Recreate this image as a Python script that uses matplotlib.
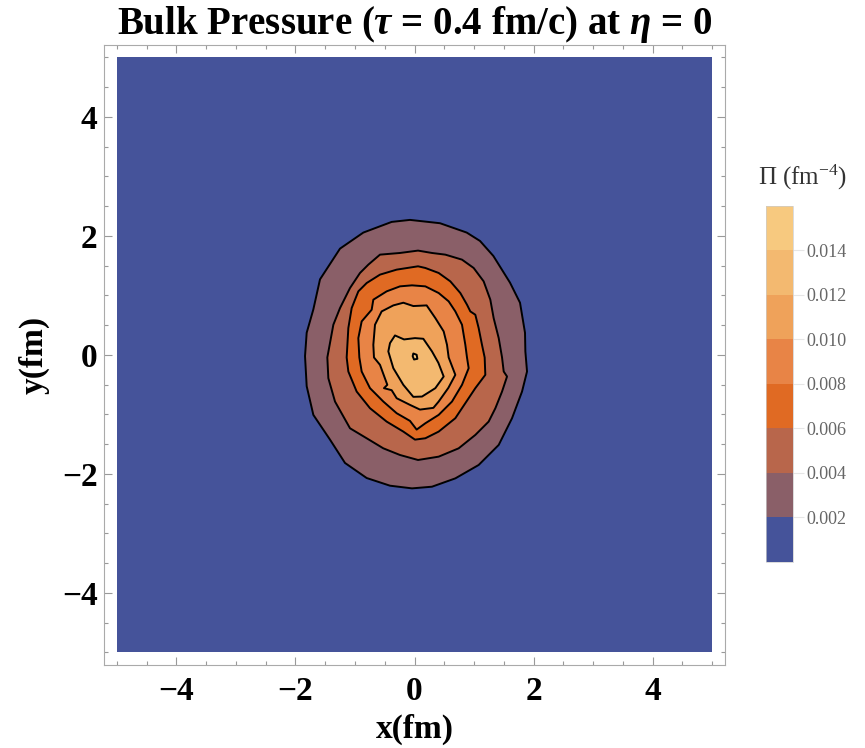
import numpy as np
import matplotlib
matplotlib.use('Agg')
import matplotlib.pyplot as plt
from matplotlib.colors import ListedColormap, BoundaryNorm
from matplotlib.ticker import MultipleLocator, FixedLocator
import matplotlib.cm as cm

plt.rcParams['font.family'] = ['Liberation Serif', 'DejaVu Serif']
plt.rcParams['mathtext.fontset'] = 'custom'
plt.rcParams['mathtext.rm'] = 'Liberation Serif'
plt.rcParams['mathtext.it'] = 'Liberation Serif:italic:bold'
plt.rcParams['axes.unicode_minus'] = True

# grid domain (fm)
x_range = [-5.0, 5.0]
y_range = [-5.0, 5.0]

# contour levels of Pi (fm^-4) and band colours
levels = [0.0, 0.002, 0.004, 0.006, 0.008, 0.010, 0.012, 0.014, 0.016]
band_colors = ['#45539a', '#8a5f68', '#b8664b', '#e06a23', '#e88446',
               '#efa25a', '#f3b970', '#f7c97f']

# contour boundaries (fm)
x_002 = [-0.384, -0.076, 0.429, 0.877, 1.101, 1.325, 1.605, 1.773, 1.857, 1.863, 1.891, 1.807, 1.639,
         1.415, 1.078, 0.686, 0.294, -0.042, -0.412, -0.804, -1.168, -1.420, -1.700, -1.812, -1.840,
         -1.812, -1.700, -1.588, -1.252, -0.860]
y_002 = [2.236, 2.270, 2.214, 2.057, 1.916, 1.664, 1.215, 0.878, 0.373, 0.059, -0.278, -0.615, -1.063,
         -1.512, -1.849, -2.074, -2.214, -2.242, -2.197, -2.068, -1.815, -1.423, -1.007, -0.525, -0.020,
         0.373, 0.766, 1.271, 1.787, 2.057]

x_004 = [0.059, 0.294, 0.518, 0.798, 0.994, 1.162, 1.274, 1.330, 1.415, 1.471, 1.499, 1.555, 1.471,
         1.359, 1.246, 1.022, 0.742, 0.406, 0.059, -0.244, -0.524, -0.804, -1.084, -1.336, -1.448,
         -1.465, -1.364, -1.252, -1.084, -0.916, -0.776, -0.580, -0.244]
y_004 = [1.754, 1.714, 1.686, 1.602, 1.462, 1.237, 0.929, 0.620, 0.283, -0.042, -0.278, -0.362, -0.615,
         -0.895, -1.120, -1.344, -1.569, -1.709, -1.765, -1.681, -1.569, -1.400, -1.232, -0.783, -0.390,
         -0.042, 0.508, 0.788, 1.125, 1.378, 1.518, 1.686, 1.714]

x_006 = [0.059, 0.182, 0.406, 0.602, 0.770, 0.882, 0.938, 1.022, 1.078, 1.134, 1.179, 1.190, 1.022,
         0.686, 0.406, 0.182, 0.008, -0.188, -0.468, -0.748, -0.972, -1.112, -1.140, -1.112, -1.056,
         -0.944, -0.804, -0.580, -0.300]
y_006 = [1.490, 1.462, 1.378, 1.237, 1.041, 0.845, 0.732, 0.676, 0.452, 0.171, -0.042, -0.334, -0.558,
         -1.063, -1.288, -1.400, -1.423, -1.288, -1.120, -0.895, -0.615, -0.278, -0.042, 0.452, 0.788,
         1.069, 1.209, 1.350, 1.434]

x_008 = [-0.042, 0.182, 0.406, 0.574, 0.686, 0.798, 0.854, 0.882, 0.910, 0.798, 0.630, 0.406, 0.182,
         0.036, -0.076, -0.300, -0.524, -0.748, -0.888, -0.927, -0.944, -0.888, -0.720, -0.692, -0.468,
         -0.244]
y_008 = [1.170, 1.153, 1.041, 0.901, 0.732, 0.508, 0.171, -0.042, -0.222, -0.502, -0.783, -1.007, -1.148,
         -1.254, -1.108, -0.979, -0.783, -0.558, -0.278, -0.042, 0.283, 0.564, 0.760, 0.929, 1.069,
         1.153]

x_010 = [-0.356, -0.188, -0.020, 0.204, 0.350, 0.490, 0.546, 0.574, 0.686, 0.569, 0.406, 0.317, 0.092,
         -0.076, -0.300, -0.384, -0.513, -0.457, -0.580, -0.681, -0.692, -0.664, -0.552]
y_010 = [0.833, 0.878, 0.822, 0.833, 0.620, 0.396, 0.171, -0.042, -0.334, -0.553, -0.783, -0.889, -0.918,
         -0.839, -0.727, -0.592, -0.558, -0.502, -0.166, -0.042, 0.171, 0.508, 0.732]

x_012 = [-0.328, -0.176, 0.008, 0.148, 0.294, 0.401, 0.490, 0.350, 0.126, -0.020, -0.188, -0.356, -0.440,
         -0.412]
y_012 = [0.328, 0.261, 0.283, 0.272, 0.059, -0.132, -0.362, -0.558, -0.699, -0.704, -0.502, -0.222, 0.059,
         0.199]

x_014 = [-0.020, 0.036, 0.048, -0.008, -0.031]
y_014 = [0.025, 0.003, -0.065, -0.076, -0.020]

tick_vals = [0.002, 0.004, 0.006, 0.008, 0.010, 0.012, 0.014]

fig = plt.figure(figsize=(8.65, 7.48), dpi=100)
ax = fig.add_axes([0.1208, 0.1110, 0.7168, 0.8289])

ax.fill_between(x_range, y_range[0], y_range[1], color=band_colors[0], lw=0, zorder=1)
shapes = [(x_002, y_002), (x_004, y_004), (x_006, y_006), (x_008, y_008),
          (x_010, y_010), (x_012, y_012), (x_014, y_014)]
for i, (xs, ys) in enumerate(shapes):
    ax.fill(xs, ys, facecolor=band_colors[i + 1], edgecolor='black', lw=1.4,
            joinstyle='round', zorder=2 + i)

ax.set_xlim(-5.21, 5.21)
ax.set_ylim(-5.21, 5.21)
ax.xaxis.set_major_locator(FixedLocator([-4, -2, 0, 2, 4]))
ax.yaxis.set_major_locator(FixedLocator([-4, -2, 0, 2, 4]))
ax.xaxis.set_minor_locator(MultipleLocator(0.5))
ax.yaxis.set_minor_locator(MultipleLocator(0.5))
ax.tick_params(which='both', direction='in', top=True, right=True, color='#999999', width=0.8)
ax.tick_params(which='major', length=5.5, labelsize=24, labelcolor='black')
ax.tick_params(axis='x', which='major', pad=8)
ax.tick_params(axis='y', which='major', pad=5)
ax.tick_params(which='minor', length=3)
for lab in ax.get_xticklabels() + ax.get_yticklabels():
    lab.set_fontweight('bold')
for sp in ax.spines.values():
    sp.set_color('#aaaaaa')
    sp.set_linewidth(0.8)

ax.set_xlabel('x(fm)', fontsize=24, fontweight='bold', labelpad=5)
ax.set_ylabel('y(fm)', fontsize=24, fontweight='bold', labelpad=9)
ax.set_title(r'Bulk Pressure ($\tau$ = 0.4 fm/c) at $\eta$ = 0', fontsize=28,
             fontweight='bold', pad=6)

cmap = ListedColormap(band_colors)
norm = BoundaryNorm(levels, cmap.N)
cax = fig.add_axes([0.8855, 0.2487, 0.0312, 0.4759])
cb = fig.colorbar(cm.ScalarMappable(norm=norm, cmap=cmap), cax=cax, ticks=tick_vals)
cb.minorticks_off()
cb.ax.set_yticklabels(['%.3f' % v for v in tick_vals])
cb.ax.tick_params(length=8, width=0.8, color='#e6e6e6', labelsize=13, labelcolor='#666666', pad=2)
cb.outline.set_edgecolor('#cccccc')
cb.outline.set_linewidth(0.5)
fig.text(803 / 865, 1 - 177 / 748, r'Π (fm$^{-4}$)', fontsize=18, color='#333333',
         ha='center', va='center')

fig.savefig('out.png', dpi=100)
